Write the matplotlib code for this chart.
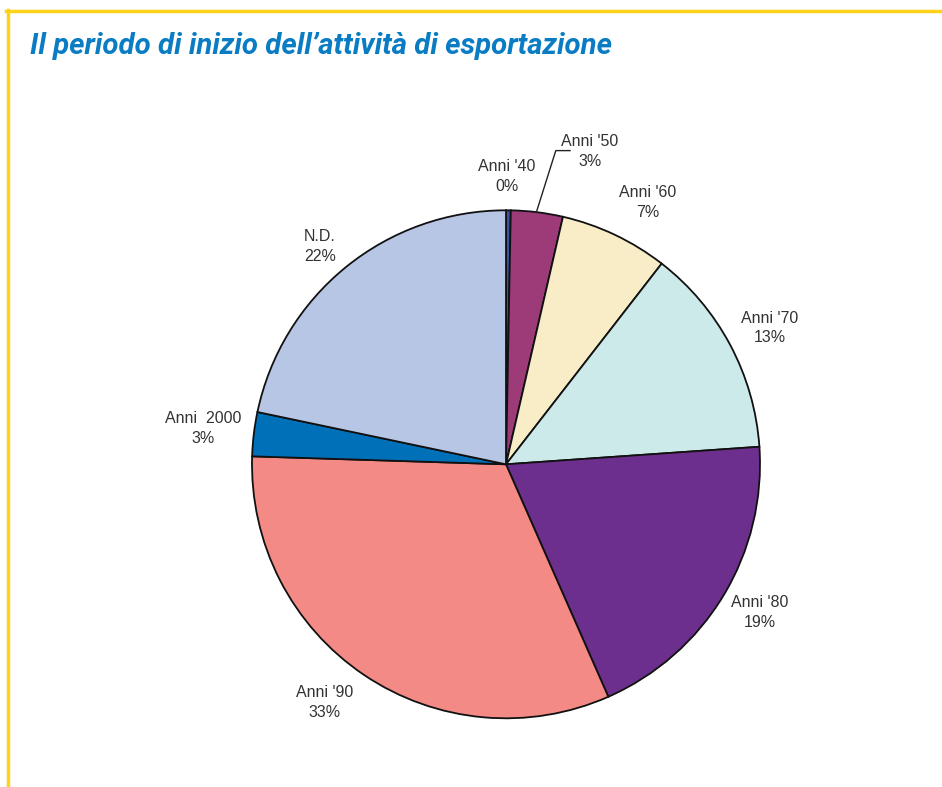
import matplotlib
matplotlib.use("Agg")
import matplotlib.pyplot as plt
from matplotlib.lines import Line2D

# ---- data ----
categories = ["Anni '40", "Anni '50", "Anni '60", "Anni '70", "Anni '80",
              "Anni '90", "Anni  2000", "N.D."]
shares = [0.3, 3.3, 6.9, 13.4, 19.5, 32.1, 2.8, 21.7]
pct_labels = ["0%", "3%", "7%", "13%", "19%", "33%", "3%", "22%"]
colors = ["#3c52a4", "#9c3b78", "#f9edc8", "#cdeaeb", "#6d2f8d",
          "#f48a85", "#0071b9", "#b8c6e6"]
title = "Il periodo di inizio dell\u2019attività di esportazione"

# label placement (data units around the pie)
label_pos = [(0.004, 1.133), (0.331, 1.233), (0.559, 1.031), (1.039, 0.537),
             (1.0, -0.585), (-0.713, -0.938), (-1.193, 0.141), (-0.732, 0.857)]

W, H = 942, 787
fig = plt.figure(figsize=(W / 100, H / 100), dpi=100)

# yellow frame
fig.add_artist(Line2D([6 / W, 1.0], [1 - 11 / H, 1 - 11 / H], color="#ffd21a", lw=2.5))
fig.add_artist(Line2D([8 / W, 8 / W], [0, 1 - 10 / H], color="#ffd21a", lw=2.5))

fig.text(30 / W, 1 - 46 / H, title, color="#0a7cc4", fontsize=21.2,
         fontweight="bold", fontstyle="italic", va="center", ha="left",
         family=["Roboto", "Liberation Sans", "DejaVu Sans"])

cx, cy, r = 506, 464.3, 254
ax = fig.add_axes([(cx - r) / W, (H - cy - r) / H, 2 * r / W, 2 * r / H])
ax.pie(shares, colors=colors, startangle=90, counterclock=False,
       wedgeprops=dict(edgecolor="#111111", linewidth=1.3))
ax.set_xlim(-1, 1)
ax.set_ylim(-1, 1)
ax.set_aspect("auto")
ax.axis("off")

for cat, pct, (x, y) in zip(categories, pct_labels, label_pos):
    ax.text(x, y, f"{cat}\n{pct}", ha="center", va="center", fontsize=11.5,
            color="#333333", linespacing=1.4, family="Liberation Sans")

# leader line for Anni '50
ax.plot([0.121, 0.196, 0.252], [0.997, 1.235, 1.235], color="#222222",
        lw=1.0, clip_on=False)

fig.savefig("out.png", dpi=100)
